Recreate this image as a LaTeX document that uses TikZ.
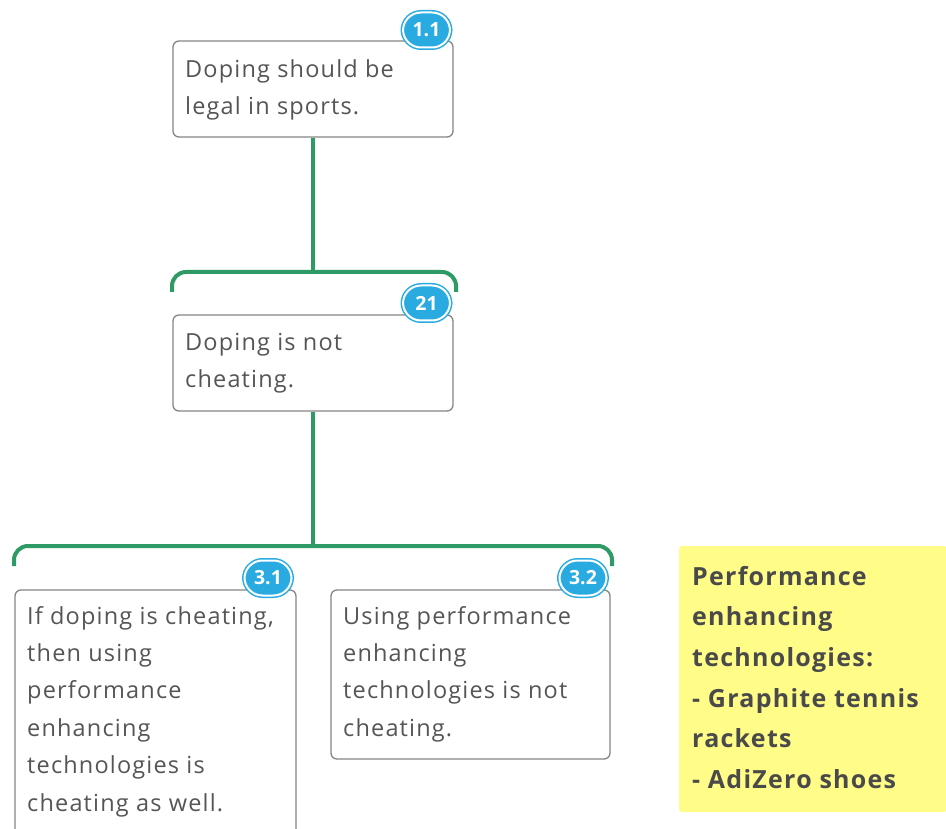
\documentclass[tikz,border=0pt]{standalone}
\usepackage{fontspec}
\setmainfont{Open Sans}[LetterSpace=5]
\newfontfamily\badgefont{Open Sans}[LetterSpace=0]
\definecolor{conngreen}{HTML}{2E9A66}
\definecolor{boxgray}{HTML}{858585}
\definecolor{txtgray}{HTML}{555555}
\definecolor{badgeblue}{HTML}{29AAE1}
\definecolor{noteyellow}{HTML}{FFFC88}
\definecolor{notetxt}{HTML}{4A4A4A}
\begin{document}
\begin{tikzpicture}[x=1pt,y=-1pt,
  claimbox/.style={draw=boxgray, line width=1.3pt, fill=white, rounded corners=6pt, inner sep=0pt},
  claimtext/.style={anchor=north west, inner sep=0pt, align=left, text=txtgray, font=\fontsize{23.5pt}{37.4pt}\selectfont},
  conn/.style={draw=conngreen, line width=4pt, rounded corners=14pt},
  badge/.style={draw=badgeblue, double=white, double distance=2pt, line width=1.5pt, fill=badgeblue, rounded corners=18pt, minimum width=47pt, minimum height=35pt, inner sep=0pt, text=white, font=\badgefont\bfseries\fontsize{19.5pt}{19.5pt}\selectfont},
  notebox/.style={fill=noteyellow, rounded corners=3pt, inner sep=0pt}
]
\useasboundingbox (0,0) rectangle (946,829);

% connectors
\coordinate (j1) at (313,272);
\coordinate (j2) at (313,546);
\draw[conn] (172,292) -- (172,272) -- (456,272) -- (456,292);
\draw[conn] (14,566) -- (14,546) -- (612,546) -- (612,566);

% boxes
\node[claimbox, minimum width=280pt, minimum height=96pt] (b1) at (313,89) {};
\node[claimbox, minimum width=280pt, minimum height=96pt] (b2) at (313,363) {};
\node[claimbox, minimum width=281pt, minimum height=250pt] (b31) at (155.5,715) {};
\node[claimbox, minimum width=279pt, minimum height=169pt] (b32) at (470.5,674.5) {};

\draw[conn] (b1.south) -- (j1);
\draw[conn] (b2.south) -- (j2);

% texts
\node[claimtext] (t1) at (185,59) {Doping should be\\legal in sports.};
\node[claimtext] (t2) at (185,333) {Doping is not\\cheating.};
\node[claimtext] (t31) at (27,606) {If doping is cheating,\\then using\\performance\\enhancing\\technologies is\\cheating as well.};
\node[claimtext] (t32) at (343,606) {Using performance\\enhancing\\technologies is not\\cheating.};

% badges
\node[badge] (n11) at (426.5,30) {1.1};
\node[badge] (n21) at (426.5,303) {21};
\node[badge] (n31) at (268,578) {3.1};
\node[badge] (n32) at (583,578) {3.2};

% note
\node[notebox, minimum width=268pt, minimum height=266pt] (note) at (813,679) {};
\node[anchor=north west, inner sep=0pt, align=left, text=notetxt, font=\bfseries\fontsize{25pt}{40.6pt}\selectfont] (notetext) at (692,566) {Performance\\enhancing\\technologies:\\- Graphite tennis\\rackets\\- AdiZero shoes};
\end{tikzpicture}
\end{document}
